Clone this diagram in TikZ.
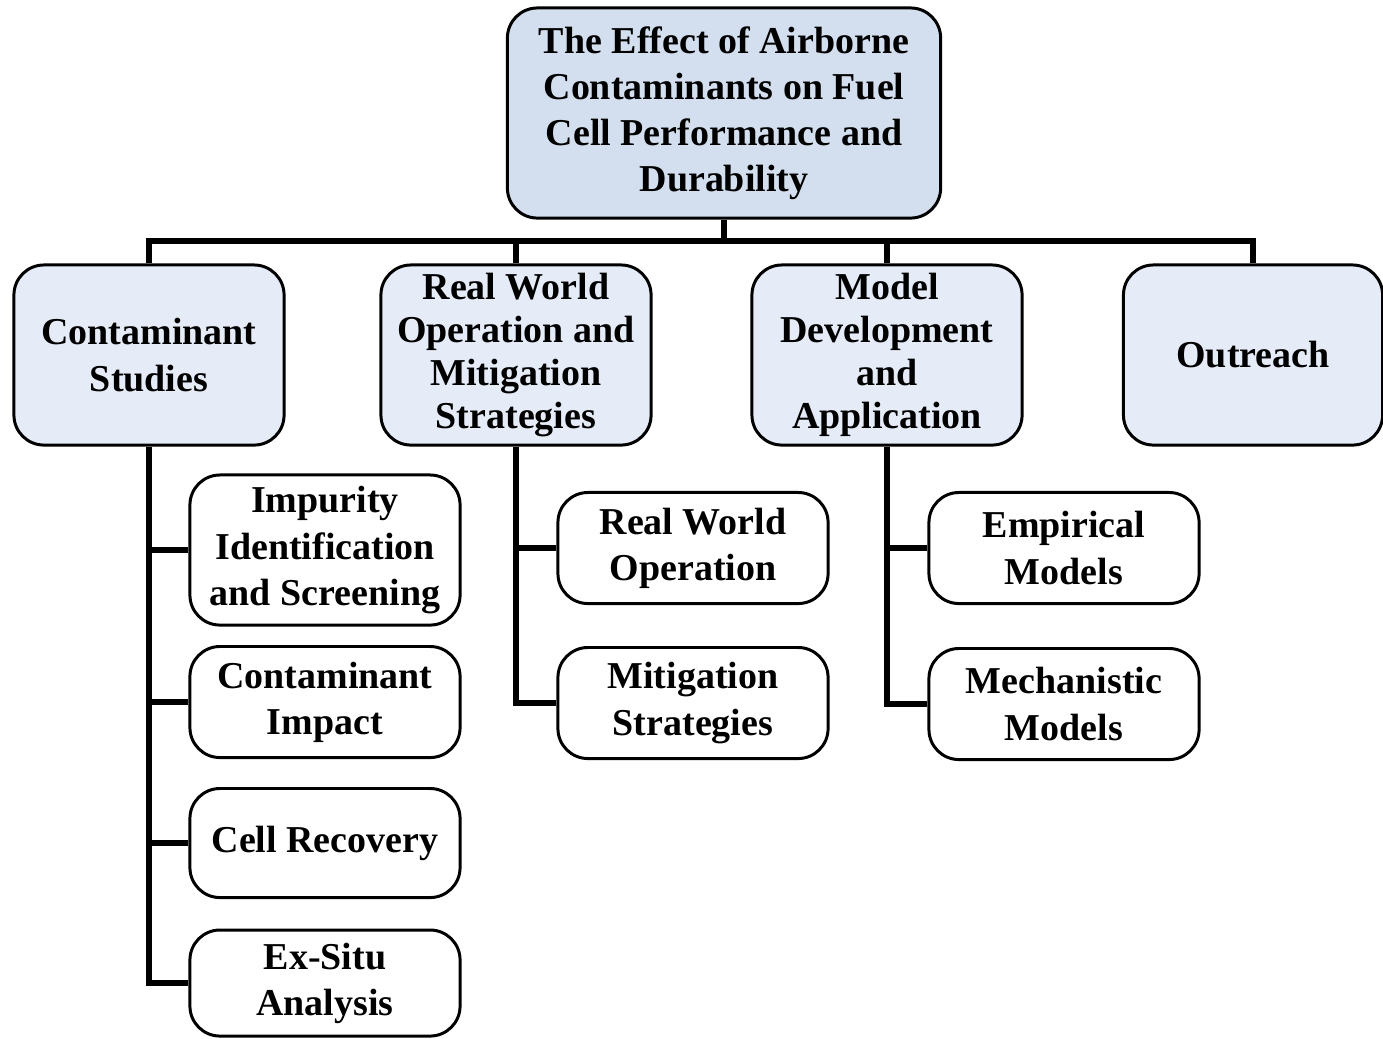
\documentclass[tikz,border=0pt]{standalone}
\usepackage{fontspec}
\setmainfont{Liberation Serif}
\usepackage{tikz}

\definecolor{rootfill}{HTML}{D3DFEE}
\definecolor{midfill}{HTML}{E5ECF7}

\tikzset{
  box/.style={draw=black, line width=0.85pt, rounded corners=0.3cm, align=center,
    inner sep=0pt, minimum width=2.7cm, font=\bfseries\fontsize{10.8}{13.1}\selectfont},
  rootbox/.style={box, fill=rootfill, minimum width=4.33cm, minimum height=2.1cm},
  topbox/.style={box, fill=midfill, minimum height=1.8cm},
  tightbox/.style={topbox, font=\bfseries\fontsize{10.8}{12.2}\selectfont},
  subbox/.style={box, fill=white},
  bus/.style={line width=1.7pt}
}

\begin{document}
\begin{tikzpicture}[x=0.01cm, y=-0.01cm]
\useasboundingbox (0,0) rectangle (1383,1038);
%picture
\node[rootbox] (root) at (724,113) {The Effect of Airborne\\Contaminants on Fuel\\Cell Performance and\\Durability};
\node[topbox] (cs) at (149,355) {Contaminant\\Studies};
\node[tightbox] (rw) at (516,355) {Real World\\Operation and\\Mitigation\\Strategies};
\node[tightbox] (md) at (887,355) {Model\\Development\\and\\Application};
\node[topbox, minimum width=2.59cm] (out) at (1253,355) {Outreach};
%sub items
\node[subbox, minimum height=1.5cm] (imp) at (325,550) {Impurity\\Identification\\and Screening};
\node[subbox, minimum height=1.11cm] (ci) at (325,702) {Contaminant\\Impact};
\node[subbox, minimum height=1.09cm] (cr) at (325,843) {Cell Recovery};
\node[subbox, minimum height=1.06cm] (ex) at (325,983) {Ex-Situ\\Analysis};
\node[subbox, minimum height=1.11cm] (rwo) at (693,548) {Real World\\Operation};
\node[subbox, minimum height=1.11cm] (mit) at (693,703) {Mitigation\\Strategies};
\node[subbox, minimum height=1.11cm] (emp) at (1064,548) {Empirical\\Models};
\node[subbox, minimum height=1.11cm] (mech) at (1064,704) {Mechanistic\\Models};
%connectors
\coordinate (bus) at (724,241);
\draw[bus] (root.south) -- (bus);
\draw[bus] (cs.north) |- (bus) -| (out.north);
\foreach \n in {rw,md}
  \draw[bus] (\n.north) -- (\n.north |- bus);
\draw[bus] (cs.south) |- (ex.west);
\foreach \n in {imp,ci,cr}
  \draw[bus] (\n.west) -- (\n.west -| cs.south);
\draw[bus] (rw.south) |- (mit.west);
\draw[bus] (rwo.west) -- (rwo.west -| rw.south);
\draw[bus] (md.south) |- (mech.west);
\draw[bus] (emp.west) -- (emp.west -| md.south);
\end{tikzpicture}
\end{document}
